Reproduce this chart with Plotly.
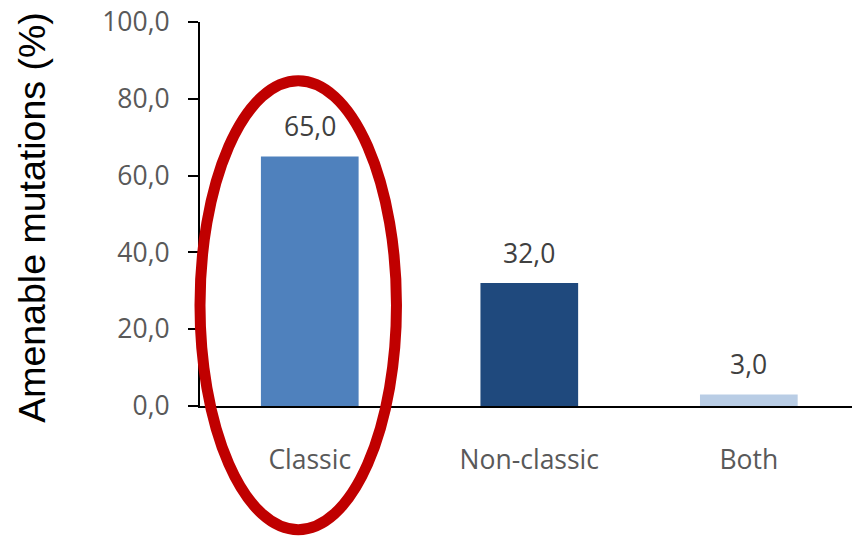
import plotly.graph_objects as go

# Share of amenable mutations by category
categories = ["Classic", "Non-classic", "Both"]
values = [65.0, 32.0, 3.0]
bar_colors = ["#4F81BD", "#1F497D", "#B9CDE5"]
y_ticks = [0, 20, 40, 60, 80, 100]
y_tick_labels = ["0,0", "20,0", "40,0", "60,0", "80,0", "100,0"]

W, H = 852, 537
M_L, M_R, M_T, M_B = 200, 0, 22, 131
X_RANGE = [-0.5, 2.47]
Y_RANGE = [0, 100]

fig = go.Figure(
    go.Bar(
        x=categories,
        y=values,
        marker=dict(color=bar_colors, line=dict(width=0)),
        width=0.445,
        hoverinfo="skip",
    )
)

# Value labels above each bar, comma as decimal separator
for cat, v in zip(categories, values):
    fig.add_annotation(
        x=cat, y=v, xref="x", yref="y",
        text=f"{v:.1f}".replace(".", ","),
        showarrow=False, yanchor="bottom", yshift=10,
        font=dict(family="Open Sans", size=26.5, color="#404040"),
    )

# Axis title placed as a rotated annotation
fig.add_annotation(
    x=(32 - M_L) / (W - M_L - M_R), y=0.49, xref="paper", yref="paper",
    text="Amenable mutations (%)", textangle=-90, showarrow=False,
    xanchor="center", yanchor="middle",
    font=dict(family="Liberation Sans, Arial", size=37.5, color="#000000"),
)

# Highlight ring around the first category, given in axis units
ring_x = [-0.5, 0.395]
ring_y = [-32.2, 84.7]


def to_paper_x(v):
    return (v - X_RANGE[0]) / (X_RANGE[1] - X_RANGE[0])


def to_paper_y(v):
    return (v - Y_RANGE[0]) / (Y_RANGE[1] - Y_RANGE[0])


fig.add_shape(
    type="circle", xref="paper", yref="paper",
    x0=to_paper_x(ring_x[0]), x1=to_paper_x(ring_x[1]),
    y0=to_paper_y(ring_y[0]), y1=to_paper_y(ring_y[1]),
    line=dict(color="#C00000", width=11), layer="above",
)

fig.update_layout(
    width=W, height=H,
    margin=dict(l=M_L, r=M_R, t=M_T, b=M_B, pad=0),
    paper_bgcolor="white", plot_bgcolor="white",
    showlegend=False,
    bargap=0.555,
)
fig.update_xaxes(
    range=X_RANGE, showline=True, linecolor="#000000", linewidth=2,
    ticks="", showgrid=False, zeroline=False,
    tickfont=dict(family="Open Sans", size=26.5, color="#595959"),
    ticklabelstandoff=29,
)
fig.update_yaxes(
    range=Y_RANGE, showline=True, linecolor="#000000", linewidth=2,
    ticks="outside", ticklen=10, tickwidth=2, tickcolor="#000000",
    tickvals=y_ticks, ticktext=y_tick_labels,
    showgrid=False, zeroline=False,
    tickfont=dict(family="Open Sans", size=26.5, color="#595959"),
    ticklabelstandoff=13,
)

fig.write_html("out.html")
